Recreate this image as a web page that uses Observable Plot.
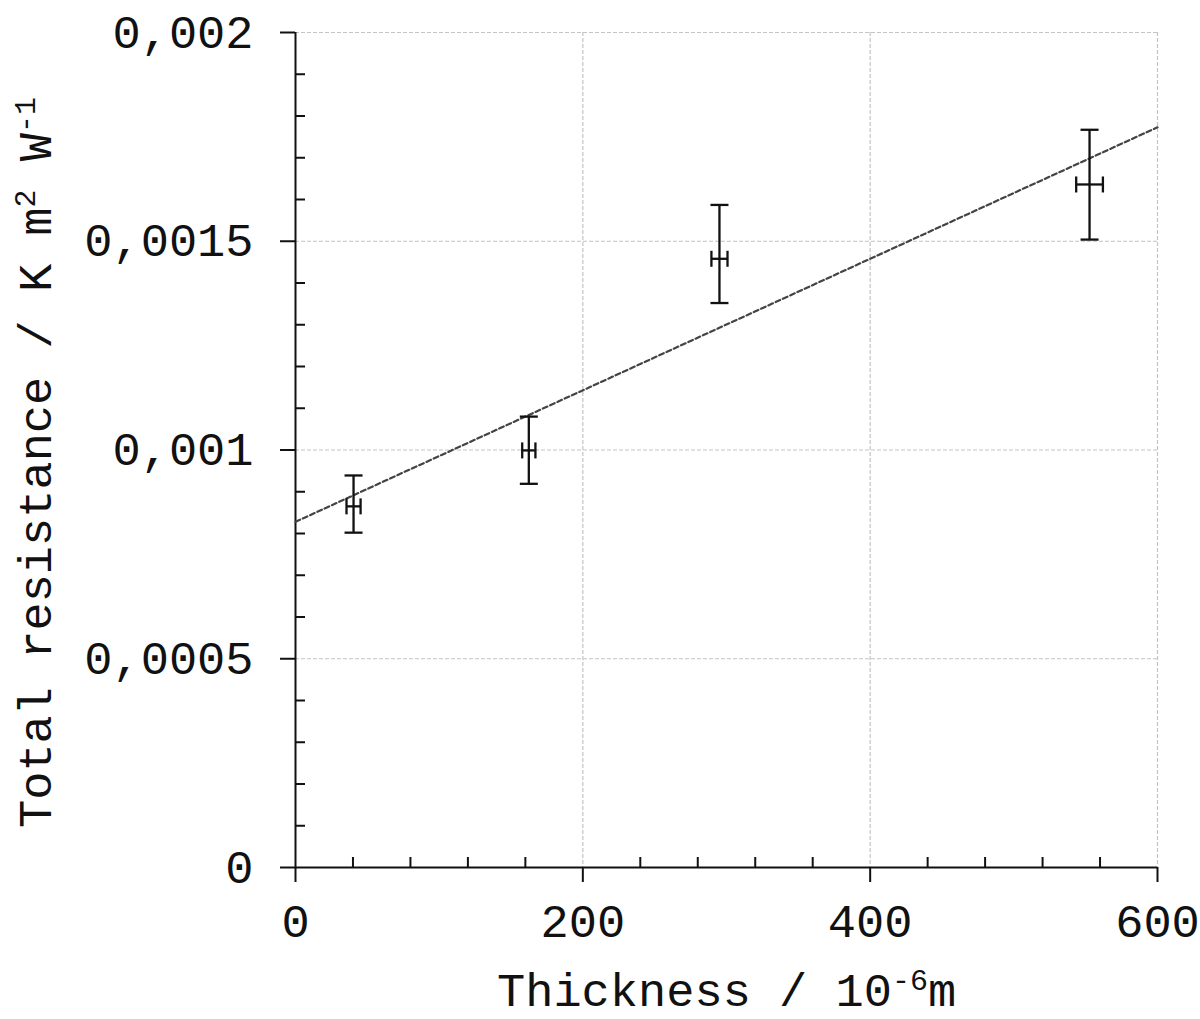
<!DOCTYPE html>
<html><head><meta charset="utf-8">
<script src="https://cdn.jsdelivr.net/npm/d3@7"></script>
<script src="https://cdn.jsdelivr.net/npm/@observablehq/plot@0.6"></script>
<style>html,body{margin:0;padding:0;background:#fff;overflow:hidden}</style>
</head><body><div id="chart"></div>
<script>
// Data
const thickness = [40.4, 162.4, 295.1, 552.7];
const thicknessErr = [4.9, 4.6, 5.6, 9.3];
const resistance = [0.000865, 0.000999, 0.001458, 0.001636];
const resistanceLow = [0.000802, 0.000919, 0.001352, 0.001504];
const resistanceHigh = [0.000939, 0.00108, 0.001587, 0.001767];
const fitThickness = [0, 600];
const fitResistance = [0.000828, 0.001773];
const xTicks = [0, 200, 400, 600];
const yTicks = [0, 0.0005, 0.001, 0.0015, 0.002];
const xMinorTicks = [40, 80, 120, 160, 240, 280, 320, 360, 440, 480, 520, 560];
const yMinorTicks = [0.0001, 0.0002, 0.0003, 0.0004, 0.0006, 0.0007, 0.0008, 0.0009,
  0.0011, 0.0012, 0.0013, 0.0014, 0.0016, 0.0017, 0.0018, 0.0019];

const points = thickness.map((x, i) => ({
  x, xlo: x - thicknessErr[i], xhi: x + thicknessErr[i],
  y: resistance[i], ylo: resistanceLow[i], yhi: resistanceHigh[i]
}));
const fit = fitThickness.map((x, i) => ({x, y: fitResistance[i]}));

const hCap = {draw(ctx, size) { const r = Math.sqrt(size / Math.PI); ctx.moveTo(-r, 0); ctx.lineTo(r, 0); }};
const vCap = {draw(ctx, size) { const r = Math.sqrt(size / Math.PI); ctx.moveTo(0, -r); ctx.lineTo(0, r); }};

const W = 1200, H = 1019, mL = 295, mR = 43, mT = 32, mB = 152;
const fmt = d => String(d).replace(".", ",");
const gridStyle = {stroke: "#c4c4c4", strokeOpacity: 1, strokeWidth: 1.2, strokeDasharray: "4,2"};

const chart = Plot.plot({
  width: W, height: H,
  marginLeft: mL, marginRight: mR, marginTop: mT, marginBottom: mB,
  style: {fontFamily: "'Liberation Mono', monospace", fontSize: "47px", color: "#111", background: "#fff"},
  x: {domain: [0, 600]},
  y: {domain: [0, 0.002]},
  marks: [
    Plot.gridX(xTicks.slice(1), gridStyle),
    Plot.gridY(yTicks.slice(1), gridStyle),
    Plot.tickX(xMinorTicks, {x: d => d, insetTop: (H - mT - mB) - 10, stroke: "#111", strokeWidth: 2}),
    Plot.tickY(yMinorTicks, {y: d => d, insetRight: (W - mL - mR) - 10, stroke: "#111", strokeWidth: 2}),
    Plot.axisX(xTicks, {tickSize: 15, tickPadding: 21, tickFormat: d => String(d), label: null, strokeWidth: 2}),
    Plot.axisY(yTicks, {tickSize: 15, tickPadding: 27, tickFormat: fmt, label: null, strokeWidth: 2}),
    Plot.ruleX([0], {stroke: "#111", strokeWidth: 2}),
    Plot.ruleY([0], {stroke: "#111", strokeWidth: 2}),
    Plot.line(fit, {x: "x", y: "y", stroke: "#444", strokeWidth: 2.2, strokeDasharray: "5,3"}),
    Plot.ruleX(points, {x: "x", y1: "ylo", y2: "yhi", stroke: "#111", strokeWidth: 2.3}),
    Plot.ruleY(points, {y: "y", x1: "xlo", x2: "xhi", stroke: "#111", strokeWidth: 2.3}),
    Plot.dot(points, {x: "x", y: "yhi", symbol: hCap, r: 9, fill: "none", stroke: "#111", strokeWidth: 2.3}),
    Plot.dot(points, {x: "x", y: "ylo", symbol: hCap, r: 9, fill: "none", stroke: "#111", strokeWidth: 2.3}),
    Plot.dot(points, {x: "xlo", y: "y", symbol: vCap, r: 8, fill: "none", stroke: "#111", strokeWidth: 2.3}),
    Plot.dot(points, {x: "xhi", y: "y", symbol: vCap, r: 8, fill: "none", stroke: "#111", strokeWidth: 2.3})
  ]
});
document.getElementById("chart").appendChild(chart);

// Axis titles with superscripts
const svg = d3.select(chart);
const xl = svg.append("text")
  .attr("x", 497).attr("y", 1006)
  .attr("text-anchor", "start")
  .style("font-family", "'Liberation Mono', monospace").style("font-size", "47px").attr("fill", "#111");
xl.append("tspan").text("Thickness / 10");
xl.append("tspan").attr("dy", -16).style("font-size", "30px").text("-6");
xl.append("tspan").attr("dy", 16).text("m");

const yl = svg.append("text")
  .attr("transform", "translate(51,828) rotate(-90)")
  .attr("text-anchor", "start")
  .style("font-family", "'Liberation Mono', monospace").style("font-size", "47px").attr("fill", "#111");
yl.append("tspan").text("Total resistance / K m");
yl.append("tspan").attr("dy", -16).style("font-size", "30px").text("2");
yl.append("tspan").attr("dy", 16).text(" W");
yl.append("tspan").attr("dy", -16).style("font-size", "30px").text("-1");
</script>
</body></html>
